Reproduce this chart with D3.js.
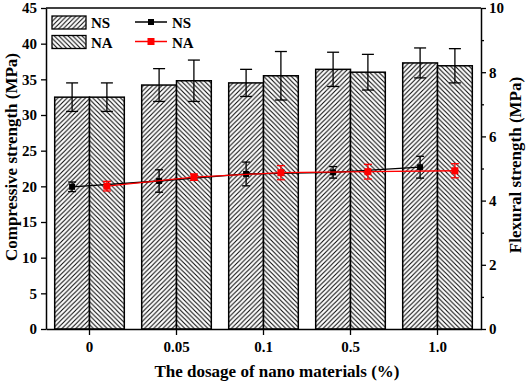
<!DOCTYPE html>
<html>
<head>
<meta charset="utf-8">
<script src="https://cdn.jsdelivr.net/npm/d3@7"></script>
<style>
  body { margin: 0; background: #fff; }
  svg { display: block; }
</style>
</head>
<body>
<div id="chart"></div>
<script>
const dosages = ["0", "0.05", "0.1", "0.5", "1.0"];
const series = ["NS", "NA"];

// compressive strength (bars), MPa
const compNS = [32.5, 34.2, 34.5, 36.4, 37.3];
const compNSerr = [2.0, 2.3, 1.9, 2.4, 2.1];
const compNA = [32.5, 34.8, 35.5, 36.0, 36.9];
const compNAerr = [2.0, 2.9, 3.4, 2.5, 2.4];

// flexural strength (lines), MPa
const flexNS = [4.43, 4.61, 4.83, 4.88, 5.04];
const flexNSerr = [0.15, 0.35, 0.37, 0.18, 0.34];
const flexNA = [4.45, 4.73, 4.87, 4.90, 4.93];
const flexNAerr = [0.15, 0.10, 0.22, 0.23, 0.22];

const leftTicks = [0, 5, 10, 15, 20, 25, 30, 35, 40, 45];
const rightTicks = [0, 2, 4, 6, 8, 10];
const rightMinor = [1, 3, 5, 7, 9];

const width = 526, height = 383;
const margin = {top: 8, right: 45, bottom: 54, left: 46};
const font = "'Liberation Serif', 'Times New Roman', serif";

const svg = d3.select("#chart").append("svg")
    .attr("width", width)
    .attr("height", height)
    .attr("font-family", font)
    .attr("font-weight", "bold");

const x = d3.scaleBand()
    .domain(dosages)
    .range([margin.left, width - margin.right])
    .paddingInner(0.2)
    .paddingOuter(0.1);
const xs = d3.scaleBand().domain(series).range([0, x.bandwidth()]);
const y = d3.scaleLinear().domain([0, 45]).range([height - margin.bottom, margin.top]);
const y2 = d3.scaleLinear().domain([0, 10]).range([height - margin.bottom, margin.top]);

// hatch patterns
const defs = svg.append("defs");
const hs = 4.6;
const hatch = (id, dir) => {
  const p = defs.append("pattern")
      .attr("id", id)
      .attr("patternUnits", "userSpaceOnUse")
      .attr("width", hs).attr("height", hs);
  p.append("rect").attr("width", hs).attr("height", hs).attr("fill", "#fff");
  const d = dir > 0
    ? `M-1,1 l2,-2 M0,${hs} l${hs},${-hs} M${hs - 1},${hs + 1} l2,-2`
    : `M-1,${hs - 1} l2,2 M0,0 l${hs},${hs} M${hs - 1},-1 l2,2`;
  p.append("path").attr("d", d).attr("stroke", "#000").attr("stroke-width", 1);
};
hatch("hNS", 1);
hatch("hNA", -1);

const rows = dosages.map((k, i) => ({
  key: k,
  bars: [
    {s: "NS", v: compNS[i], e: compNSerr[i]},
    {s: "NA", v: compNA[i], e: compNAerr[i]}
  ]
}));

const grp = svg.append("g").selectAll("g")
  .data(rows)
  .join("g")
    .attr("transform", d => `translate(${x(d.key)},0)`);

grp.selectAll("rect")
  .data(d => d.bars)
  .join("rect")
    .attr("x", d => xs(d.s))
    .attr("y", d => y(d.v))
    .attr("width", xs.bandwidth())
    .attr("height", d => y(0) - y(d.v))
    .attr("fill", d => `url(#h${d.s})`)
    .attr("stroke", "#000")
    .attr("stroke-width", 1.5);

// bar error bars
const eb = grp.selectAll("g.err")
  .data(d => d.bars)
  .join("g")
    .attr("class", "err")
    .attr("transform", d => `translate(${xs(d.s) + xs.bandwidth() / 2},0)`)
    .attr("stroke", "#000")
    .attr("stroke-width", 1.3);
eb.append("line").attr("y1", d => y(d.v + d.e)).attr("y2", d => y(d.v - d.e));
eb.append("line").attr("x1", -6).attr("x2", 6).attr("y1", d => y(d.v + d.e)).attr("y2", d => y(d.v + d.e));
eb.append("line").attr("x1", -6).attr("x2", 6).attr("y1", d => y(d.v - d.e)).attr("y2", d => y(d.v - d.e));

// flexural lines
const flex = [
  {s: "NS", color: "#000", vals: flexNS, errs: flexNSerr, size: 6},
  {s: "NA", color: "#ff0000", vals: flexNA, errs: flexNAerr, size: 7}
];
const cx = (k, s) => x(k) + xs(s) + xs.bandwidth() / 2;

flex.forEach(f => {
  const pts = dosages.map((k, i) => ({x: cx(k, f.s), v: f.vals[i], e: f.errs[i]}));
  const g = svg.append("g").attr("stroke", f.color).attr("fill", f.color);
  g.append("path")
      .datum(pts)
      .attr("fill", "none")
      .attr("stroke-width", 1.3)
      .attr("d", d3.line().x(d => d.x).y(d => y2(d.v)));
  const e = g.selectAll("g").data(pts).join("g").attr("stroke-width", 1.3);
  e.append("line").attr("x1", d => d.x).attr("x2", d => d.x)
      .attr("y1", d => y2(d.v + d.e)).attr("y2", d => y2(d.v - d.e));
  e.append("line").attr("x1", d => d.x - 4).attr("x2", d => d.x + 4)
      .attr("y1", d => y2(d.v + d.e)).attr("y2", d => y2(d.v + d.e));
  e.append("line").attr("x1", d => d.x - 4).attr("x2", d => d.x + 4)
      .attr("y1", d => y2(d.v - d.e)).attr("y2", d => y2(d.v - d.e));
  e.append("rect")
      .attr("x", d => d.x - f.size / 2).attr("y", d => y2(d.v) - f.size / 2)
      .attr("width", f.size).attr("height", f.size)
      .attr("stroke", "none");
});

// axes
const axisStyle = g => {
  g.selectAll("path.domain").attr("stroke-width", 1.5);
  g.selectAll(".tick line").attr("stroke-width", 1.3);
  g.selectAll("text").attr("font-family", font).attr("font-weight", "bold").attr("font-size", 15).attr("fill", "#000");
};

svg.append("g")
    .attr("transform", `translate(0,${y(0)})`)
    .call(d3.axisBottom(x).tickSizeInner(6).tickSizeOuter(0).tickPadding(6))
    .call(axisStyle);

svg.append("g")
    .attr("transform", `translate(${margin.left},0)`)
    .call(d3.axisLeft(y).tickValues(leftTicks).tickSizeInner(5).tickSizeOuter(0).tickPadding(4))
    .call(axisStyle);

const rx = width - margin.right;
svg.append("g")
    .attr("transform", `translate(${rx},0)`)
    .call(d3.axisRight(y2).tickValues(rightTicks).tickSizeInner(5).tickSizeOuter(0).tickPadding(3))
    .call(axisStyle);
svg.append("g")
    .attr("transform", `translate(${rx},0)`)
    .call(d3.axisRight(y2).tickValues(rightMinor).tickSize(3).tickFormat(""))
    .call(g => g.select(".domain").remove())
    .call(g => g.selectAll(".tick line").attr("stroke-width", 1.3));

// top frame
svg.append("line")
    .attr("x1", margin.left).attr("x2", rx)
    .attr("y1", margin.top).attr("y2", margin.top)
    .attr("stroke", "#000").attr("stroke-width", 1.5);

// titles
svg.append("text")
    .attr("x", 277)
    .attr("y", 377)
    .attr("text-anchor", "middle")
    .attr("font-size", 17)
    .text("The dosage of nano materials (%)");
svg.append("text")
    .attr("transform", "translate(17,157) rotate(-90)")
    .attr("text-anchor", "middle")
    .attr("font-size", 17)
    .text("Compressive strength (MPa)");
svg.append("text")
    .attr("transform", "translate(521,165) rotate(-90)")
    .attr("text-anchor", "middle")
    .attr("font-size", 17)
    .text("Flexural strength (MPa)");

// legend
const leg = svg.append("g").attr("font-size", 15);
series.forEach((s, i) => {
  const ly = 16 + i * 19.5;
  leg.append("rect")
      .attr("x", 52).attr("y", ly).attr("width", 34).attr("height", 13)
      .attr("fill", `url(#h${s})`).attr("stroke", "#000").attr("stroke-width", 1.3);
  leg.append("text").attr("x", 91).attr("y", ly + 12).text(s);
  const f = flex[i];
  const my = ly + 6;
  leg.append("line").attr("x1", 135).attr("x2", 167).attr("y1", my).attr("y2", my)
      .attr("stroke", f.color).attr("stroke-width", 1.5);
  leg.append("rect").attr("x", 151 - f.size / 2).attr("y", my - f.size / 2)
      .attr("width", f.size).attr("height", f.size).attr("fill", f.color);
  leg.append("text").attr("x", 172).attr("y", ly + 12).text(s);
});
</script>
</body>
</html>
